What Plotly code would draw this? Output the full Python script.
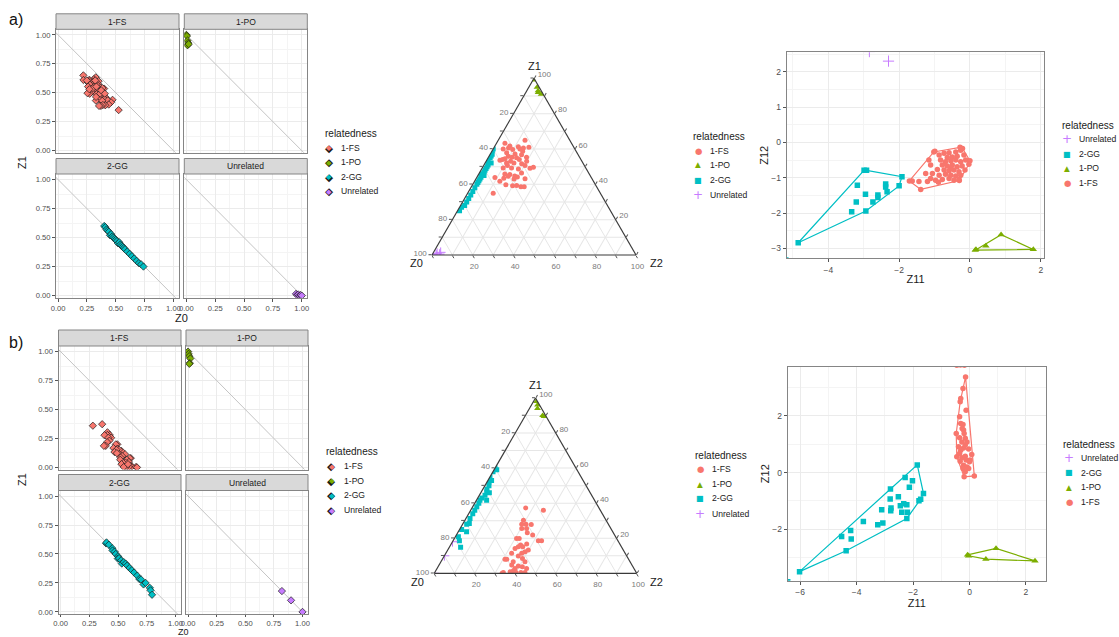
import plotly.graph_objects as go

W, H = 1119, 637

GROUPS = ["1-FS", "1-PO", "2-GG", "Unrelated"]
COLORS = {"1-FS": "#F8766D", "1-PO": "#7CAE00", "2-GG": "#00BFC4", "Unrelated": "#C77CFF"}

# ---------------- panel a: IBD proportions (Z0, Z1) ----------------
fs_a_z0 = [.219, .326, .310, .271, .220, .351, .306, .269, .262, .345, .307, .277, .347, .370, .310, .260, .399,
           .350, .338, .302, .377, .291, .274, .255, .333, .414, .391, .371, .404, .361, .472, .328, .431, .383,
           .459, .439, .409, .388, .371, .355, .525, .384, .322, .302, .271, .364, .249, .374, .332, .405, .329]
fs_a_z1 = [.650, .633, .617, .612, .610, .600, .597, .600, .587, .578, .572, .568, .559, .545, .551, .553, .536,
           .530, .521, .517, .506, .506, .491, .496, .487, .458, .455, .447, .445, .441, .439, .432, .434, .430,
           .417, .398, .392, .394, .386, .386, .350, .540, .606, .540, .530, .492, .606, .521, .553, .492, .464]
po_a_z0 = [0.0, 0.005, 0.01, 0.015, 0.01, 0.02]
po_a_z1 = [1.0, 0.99, 0.95, 0.93, 0.91, 0.92]
gg_a_z0 = [0.40, 0.41, 0.42, 0.43, 0.44, 0.45, 0.46, 0.47, 0.48, 0.49, 0.50, 0.51, 0.52, 0.53, 0.54, 0.55,
           0.56, 0.57, 0.58, 0.60, 0.62, 0.64, 0.66, 0.68, 0.70, 0.72, 0.74]
gg_a_z1 = [0.60, 0.59, 0.57, 0.56, 0.55, 0.52, 0.53, 0.51, 0.50, 0.49, 0.48, 0.47, 0.45, 0.46, 0.44, 0.43,
           0.42, 0.41, 0.40, 0.38, 0.36, 0.34, 0.32, 0.30, 0.28, 0.27, 0.25]
un_a_z0 = [0.95, 0.96, 0.97, 0.98, 0.99, 1.0]
un_a_z1 = [0.015, 0.005, 0.01, 0.0, 0.005, 0.0]

# ---------------- panel b: IBD proportions (Z0, Z1) ----------------
fs_b_z0 = [.362, .281, .408, .428, .407, .382, .440, .416, .425, .405, .494, .481, .393, .377, .493, .460, .530,
           .509, .487, .469, .511, .490, .561, .536, .522, .611, .602, .577, .519, .594, .564, .546, .530, .657,
           .621, .602, .594, .570, .550, .587, .665]
fs_b_z1 = [.373, .360, .303, .280, .280, .278, .256, .256, .231, .218, .199, .199, .186, .186, .161, .167, .142,
           .152, .152, .133, .114, .123, .114, .098, .085, .080, .080, .066, .066, .047, .042, .038, .028, .004,
           .009, .015, .004, .004, .004, .028, .0]
po_b_z0 = [0.0, 0.005, 0.01, 0.02, 0.015, 0.011]
po_b_z1 = [1.0, 0.98, 0.96, 0.94, 0.90, 0.894]
gg_b_z0 = [0.396, 0.40, 0.42, 0.45, 0.452, 0.47, 0.48, 0.50, 0.498, 0.509, 0.527, 0.533, 0.55, 0.566, 0.58,
           0.60, 0.62, 0.64, 0.667, 0.685, 0.70, 0.722, 0.74, 0.777, 0.783, 0.796]
gg_b_z1 = [0.591, 0.60, 0.58, 0.55, 0.530, 0.52, 0.50, 0.48, 0.460, 0.464, 0.445, 0.417, 0.43, 0.417, 0.40,
           0.38, 0.36, 0.34, 0.313, 0.284, 0.28, 0.237, 0.25, 0.208, 0.186, 0.148]
un_b_z0 = [0.82, 0.90, 1.0]
un_b_z1 = [0.18, 0.10, 0.0]

# ---------------- projections (Z11, Z12) ----------------
fs_a_x = [-1.02, -0.73, -0.59, -0.40, -0.26, -0.64, -0.50, -0.36, -0.17, -1.16, -0.83, -0.69, -0.54, -0.40,
          -0.26, -0.12, -1.11, -0.78, -0.64, -0.50, -0.36, -0.22, -0.92, -0.73, -0.59, -0.45, -0.31, -0.14,
          -1.25, -1.06, -0.87, -0.69, -0.54, -0.40, -0.26, -1.11, -0.78, -0.59, -0.45, -0.31, -1.44, -1.20,
          -0.97, -1.39, -1.63, -0.87, -0.54, -1.71, -0.99, -0.21, 0.0, -0.30, -0.89, -0.28, -0.03]
fs_a_y = [-0.27, -0.31, -0.29, -0.27, -0.22, -0.43, -0.41, -0.39, -0.36, -0.50, -0.50, -0.55, -0.52, -0.50,
          -0.55, -0.50, -0.64, -0.64, -0.67, -0.64, -0.69, -0.67, -0.77, -0.78, -0.80, -0.78, -0.83, -0.78,
          -0.88, -0.88, -0.93, -0.90, -0.93, -0.95, -0.93, -1.02, -1.05, -1.02, -1.07, -1.05, -1.11, -1.11,
          -1.07, -1.33, -1.09, -0.36, -0.74, -1.09, -0.25, -0.17, -0.52, -1.08, -1.13, -0.14, -0.62]
po_a_x = [0.17, 0.15, 0.45, 0.88, 1.79]
po_a_y = [-3.03, -3.05, -2.93, -2.61, -3.03]
gg_a_x = [-2.92, -2.99, -1.92, -2.00, -3.18, -2.38, -2.38, -2.95, -2.60, -2.60, -2.34, -3.21, -2.74, -3.34,
          -2.94, -4.85]
gg_a_y = [-0.79, -0.79, -0.97, -1.23, -1.21, -1.18, -1.26, -1.47, -1.49, -1.56, -1.40, -1.69, -1.69, -1.96,
          -1.94, -2.84]
gg_a_edge_x = [-5.2]
gg_a_edge_y = [-3.33]
un_a_x = [-2.84, -2.30]
un_a_y = [2.57, 2.30]

fs_b_x = [-0.14, -0.23, -0.31, -0.33, -0.12, -0.35, -0.31, -0.23, -0.21, -0.47, -0.19, -0.35, -0.15, -0.27,
          -0.09, -0.39, -0.21, -0.31, -0.03, -0.45, -0.27, -0.15, 0.08, -0.33, -0.12, 0.02, -0.21, -0.09,
          -0.23, -0.03, -0.19, 0.17, -0.15, -0.35, -0.26, -0.15, 0.0]
fs_b_y = [3.38, 2.97, 2.62, 2.50, 2.20, 1.97, 1.73, 1.70, 1.50, 1.38, 1.38, 1.23, 1.21, 1.08, 1.08, 0.91, 0.87,
          0.79, 0.83, 0.56, 0.52, 0.58, 0.64, 0.40, 0.44, 0.44, 0.26, 0.20, 0.14, 0.14, -0.15, -0.12, 0.03,
          0.67, 1.56, 0.97, 0.38]
fs_b_edge_x = [-0.45, -0.32, -0.18]
fs_b_edge_y = [3.79, 3.80, 3.79]
po_b_x = [-0.07, -0.03, 0.58, 0.94, 2.32]
po_b_y = [-2.91, -2.94, -3.06, -2.68, -3.12]
gg_b_x = [-6.02, -4.53, -4.21, -4.19, -4.37, -3.76, -3.25, -3.07, -3.11, -2.79, -2.78, -2.80, -2.81, -2.52,
          -2.45, -2.33, -2.28, -2.40, -2.22, -2.20, -2.22, -2.13, -2.02, -1.85, -1.79, -1.73, -1.63]
gg_b_y = [-3.50, -2.26, -2.05, -2.35, -2.76, -1.73, -1.84, -1.78, -1.31, -1.35, -1.25, -0.58, -0.93, -0.85,
          -1.17, -1.10, -0.17, -1.40, -1.14, -1.40, -1.62, -0.52, -0.29, 0.27, -1.00, -0.94, -0.74]
gg_b_edge_x = [-6.44]
gg_b_edge_y = [-3.86]
un_b_x = []
un_b_y = []

UNIT_TICKS = [0, 0.25, 0.5, 0.75, 1.0]
UNIT_LABELS = ["0.00", "0.25", "0.50", "0.75", "1.00"]
TERN_TICKS = [i / 10 for i in range(11)]
TERN_LABELS = ["100", "", "80", "", "60", "", "40", "", "20", "", ""]
SCATTER_ORDER = ["Unrelated", "2-GG", "1-PO", "1-FS"]

FONT = "Liberation Sans, Arial, sans-serif"
GLYPH_FONT = "DejaVu Sans"
GRID = "#ebebeb"
MINOR = "#f4f4f4"
BORDER = "#858585"
TICKTXT = "#4d4d4d"


def px(x):
    return x / W


def py(y):
    return 1 - y / H


def ax_ids(n):
    s = "" if n == 1 else str(n)
    return f"x{s}", f"y{s}", f"xaxis{s}", f"yaxis{s}"


def convex_hull(xs, ys):
    pts = sorted(set(zip(xs, ys)))
    if len(pts) < 3:
        return [], []

    def cross(o, a, b):
        return (a[0] - o[0]) * (b[1] - o[1]) - (a[1] - o[1]) * (b[0] - o[0])

    lower, upper = [], []
    for p in pts:
        while len(lower) >= 2 and cross(lower[-2], lower[-1], p) <= 0:
            lower.pop()
        lower.append(p)
    for p in reversed(pts):
        while len(upper) >= 2 and cross(upper[-2], upper[-1], p) <= 0:
            upper.pop()
        upper.append(p)
    ring = lower[:-1] + upper[:-1]
    ring.append(ring[0])
    return [p[0] for p in ring], [p[1] for p in ring]


fig = go.Figure()
layout = dict(
    width=W, height=H, margin=dict(l=0, r=0, t=0, b=0, pad=0), autosize=False,
    paper_bgcolor="white", plot_bgcolor="white", showlegend=False,
    font=dict(family=FONT, color="#1a1a1a"),
    shapes=[], annotations=[],
)


def note(text, x, y, size, color="#1a1a1a", xanchor="center", yanchor="middle", angle=0, family=FONT):
    layout["annotations"].append(dict(text=text, xref="paper", yref="paper", x=px(x), y=py(y),
                                      xanchor=xanchor, yanchor=yanchor, showarrow=False, textangle=angle,
                                      font=dict(size=size, color=color, family=family)))


# ---------------- faceted Z1 vs Z0 panels ----------------
FACETS = {
    "a": dict(cols=[(56, 179), (184.3, 307.3)], rows=[(29.3, 152.7), (174, 297.7)], strip=15.5,
              data={"1-FS": (fs_a_z0, fs_a_z1), "1-PO": (po_a_z0, po_a_z1),
                    "2-GG": (gg_a_z0, gg_a_z1), "Unrelated": (un_a_z0, un_a_z1)},
              first_axis=1),
    "b": dict(cols=[(58.5, 181), (186, 308)], rows=[(346, 469.5), (490.5, 614)], strip=16,
              data={"1-FS": (fs_b_z0, fs_b_z1), "1-PO": (po_b_z0, po_b_z1),
                    "2-GG": (gg_b_z0, gg_b_z1), "Unrelated": (un_b_z0, un_b_z1)},
              first_axis=5),
}
RANGE01 = [-0.018, 1.048]
ABLINE_INTERCEPT, ABLINE_SLOPE = 1.0, -1.0

for key, fc in FACETS.items():
    for k, grp in enumerate(GROUPS):
        r, c = divmod(k, 2)
        n = fc["first_axis"] + k
        xa, ya, xk, yk = ax_ids(n)
        x0p, x1p = fc["cols"][c]
        y0p, y1p = fc["rows"][r]
        bottom, left = (r == 1), (c == 0)
        common = dict(
            range=RANGE01, tickvals=UNIT_TICKS, ticktext=UNIT_LABELS, automargin=False,
            tickfont=dict(size=7.6, color=TICKTXT), ticklen=3, tickcolor="#555", tickwidth=1,
            showgrid=True, gridcolor=GRID, gridwidth=1,
            minor=dict(tickvals=[0.125, 0.375, 0.625, 0.875], showgrid=True, gridcolor=MINOR, gridwidth=1),
            showline=True, mirror=True, linecolor=BORDER, linewidth=1, zeroline=False, fixedrange=True,
        )
        layout[xk] = dict(common, domain=[px(x0p), px(x1p)], anchor=ya,
                          showticklabels=bottom, ticks="outside" if bottom else "",
                          ticklen=2 if key == "b" else 3)
        layout[yk] = dict(common, domain=[py(y1p), py(y0p)], anchor=xa,
                          showticklabels=left, ticks="outside" if left else "")
        # strip on top of each panel
        sh = fc["strip"] / (y1p - y0p)
        layout["shapes"].append(dict(type="rect", xref=f"{xa} domain", yref=f"{ya} domain",
                                     x0=0, x1=1, y0=1, y1=1 + sh, fillcolor="#d9d9d9",
                                     line=dict(color=BORDER, width=1), layer="above"))
        layout["annotations"].append(dict(text=grp, xref=f"{xa} domain", yref=f"{ya} domain",
                                          x=0.5, y=1 + sh / 2, xanchor="center", yanchor="middle",
                                          showarrow=False, font=dict(size=8.5, color="#1a1a1a")))
        # reference line Z1 = 1 - Z0
        lx = [RANGE01[0] - 0.1, RANGE01[1] + 0.1]
        fig.add_trace(go.Scatter(x=lx, y=[ABLINE_INTERCEPT + ABLINE_SLOPE * v for v in lx], mode="lines",
                                 line=dict(color="#c4c4c4", width=1), xaxis=xa, yaxis=ya,
                                 showlegend=False, hoverinfo="skip"))
        z0, z1 = fc["data"][grp]
        fig.add_trace(go.Scatter(x=z0, y=z1, mode="markers", name=grp,
                                 marker=dict(symbol="diamond", size=5.6, color=COLORS[grp],
                                             line=dict(color="#1a1a1a", width=0.7)),
                                 xaxis=xa, yaxis=ya))

# ---------------- ternary plots ----------------
TERN_SYMBOL = {"1-FS": "circle", "1-PO": "triangle-up", "2-GG": "square", "Unrelated": "cross-thin"}
TERN_SIZE = {"1-FS": 5, "1-PO": 6, "2-GG": 5, "Unrelated": 7}


def tern_axis():
    return dict(title=dict(text=""),
                tickvals=TERN_TICKS, ticktext=TERN_LABELS, ticks="outside", ticklen=3,
                tickcolor="#555", tickfont=dict(size=8, color="#7a7a7a"),
                showgrid=True, gridcolor="#e6e6e6", gridwidth=1,
                showline=True, linecolor="#3a3a3a", linewidth=1.2, min=0)


TERNS = {
    "ternary": dict(box=((432, 636), (78.3, 255)),
                    titles={"Z1": (534, 66), "Z0": (416, 262.5), "Z2": (656, 262.5)},
                    data={"1-FS": (fs_a_z0, fs_a_z1), "1-PO": (po_a_z0, po_a_z1),
                          "2-GG": (gg_a_z0, gg_a_z1), "Unrelated": (un_a_z0, un_a_z1)}),
    "ternary2": dict(box=((434.3, 636.7), (398, 573.3)),
                     titles={"Z1": (535.7, 384.5), "Z0": (417.5, 581.5), "Z2": (657, 581.5)},
                     data={"1-FS": (fs_b_z0, fs_b_z1), "1-PO": (po_b_z0, po_b_z1),
                           "2-GG": (gg_b_z0, gg_b_z1), "Unrelated": (un_b_z0, un_b_z1)}),
}
for tid, tc in TERNS.items():
    (x0p, x1p), (y0p, y1p) = tc["box"]
    layout[tid] = dict(domain=dict(x=[px(x0p), px(x1p)], y=[py(y1p), py(y0p)]), sum=1, bgcolor="white",
                       aaxis=tern_axis(), baxis=tern_axis(), caxis=tern_axis())
    for grp in GROUPS:
        z0, z1 = tc["data"][grp]
        z2 = [max(0.0, 1 - u - v) for u, v in zip(z0, z1)]
        mk = dict(symbol=TERN_SYMBOL[grp], size=TERN_SIZE[grp], color=COLORS[grp])
        if grp == "Unrelated":
            mk["line"] = dict(color=COLORS[grp], width=1)
        fig.add_trace(go.Scatterternary(a=z1, b=z0, c=z2, mode="markers", name=grp, subplot=tid, marker=mk))
    for label, (tx, ty) in tc["titles"].items():
        note(label, tx, ty, 11)

# ---------------- Z12 vs Z11 scatter with convex hulls ----------------
SCAT = {
    9: dict(x=(786.7, 1044.3), y=(52.3, 258.3), xr=[-5.175, 2.1], yr=[-3.28, 2.55],
            xt=[-4, -2, 0, 2], xm=[-5, -3, -1, 1], yt=[-3, -2, -1, 0, 1, 2], ym=[-2.5, -1.5, -0.5, 0.5, 1.5, 2.5],
            data={"Unrelated": (un_a_x, un_a_y), "2-GG": (gg_a_x, gg_a_y), "1-PO": (po_a_x, po_a_y),
                  "1-FS": (fs_a_x, fs_a_y)},
            edge={"2-GG": (gg_a_edge_x, gg_a_edge_y)}),
    10: dict(x=(787.7, 1046), y=(366.7, 580.7), xr=[-6.44, 2.71], yr=[-3.82, 3.74],
             xt=[-6, -4, -2, 0, 2], xm=[-5, -3, -1, 1], yt=[-2, 0, 2], ym=[-3, -1, 1, 3],
             data={"Unrelated": (un_b_x, un_b_y), "2-GG": (gg_b_x, gg_b_y), "1-PO": (po_b_x, po_b_y),
                   "1-FS": (fs_b_x, fs_b_y)},
             edge={"2-GG": (gg_b_edge_x, gg_b_edge_y), "1-FS": (fs_b_edge_x, fs_b_edge_y)}),
}
SCAT_SYMBOL = {"1-FS": "circle", "1-PO": "triangle-up", "2-GG": "square", "Unrelated": "cross-thin"}
SCAT_SIZE = {"1-FS": 5.5, "1-PO": 6.5, "2-GG": 5.5, "Unrelated": 8}

for n, sc in SCAT.items():
    xa, ya, xk, yk = ax_ids(n)
    common = dict(tickfont=dict(size=8.5, color=TICKTXT), ticks="outside", ticklen=3, tickcolor="#555",
                  showgrid=True, gridcolor=GRID, gridwidth=1, showline=True, mirror=True, automargin=False,
                  linecolor=BORDER, linewidth=1, zeroline=False, fixedrange=True)
    layout[xk] = dict(common, domain=[px(sc["x"][0]), px(sc["x"][1])], anchor=ya, range=sc["xr"],
                      tickvals=sc["xt"], minor=dict(tickvals=sc["xm"], showgrid=True, gridcolor=MINOR),
                      title=dict(text="Z11", font=dict(size=11, color="#1a1a1a"), standoff=1))
    layout[yk] = dict(common, domain=[py(sc["y"][1]), py(sc["y"][0])], anchor=xa, range=sc["yr"],
                      tickvals=sc["yt"], minor=dict(tickvals=sc["ym"], showgrid=True, gridcolor=MINOR),
                      title=dict(text="Z12", font=dict(size=11, color="#1a1a1a"), standoff=0))
    for grp in SCATTER_ORDER:
        gx, gy = sc["data"][grp]
        mk = dict(symbol=SCAT_SYMBOL[grp], size=SCAT_SIZE[grp], color=COLORS[grp])
        if grp == "Unrelated":
            mk["line"] = dict(color=COLORS[grp], width=1)
        if not gx:
            continue
        hx, hy = convex_hull(gx, gy)
        if hx:
            fig.add_trace(go.Scatter(x=hx, y=hy, mode="lines", line=dict(color=COLORS[grp], width=1.2),
                                     xaxis=xa, yaxis=ya, hoverinfo="skip"))
        fig.add_trace(go.Scatter(x=gx, y=gy, mode="markers", name=grp, marker=mk, xaxis=xa, yaxis=ya))
        if grp in sc["edge"]:
            ex, ey = sc["edge"][grp]
            fig.add_trace(go.Scatter(x=ex, y=ey, mode="markers", name=grp, marker=mk, xaxis=xa, yaxis=ya))

# ---------------- legends (title, key glyph, label) ----------------
KEY_GLYPH = {
    "circle": ("\u25cf", 8.5), "triangle-up": ("\u25b2", 7.5), "square": ("\u25a0", 8), "cross-thin": ("+", 12),
}
LEGENDS = [
    dict(title=(322.5, 133.3), key_x=329.3, rows=[147.7, 162.3, 176.7, 191.0], order=GROUPS, kind="facet"),
    dict(title=(691, 136), key_x=698.3, rows=[150.7, 164.8, 180, 195], order=GROUPS, kind="tern"),
    dict(title=(1060, 125), key_x=1067.3, rows=[139.3, 154, 168.3, 183.3], order=SCATTER_ORDER, kind="scat"),
    dict(title=(324, 451.7), key_x=331.7, rows=[466, 480.7, 495.3, 510], order=GROUPS, kind="facet"),
    dict(title=(693.3, 455), key_x=700, rows=[469.3, 484, 498.3, 514], order=GROUPS, kind="tern"),
    dict(title=(1061, 444), key_x=1069, rows=[458, 472.7, 487.3, 502.3], order=SCATTER_ORDER, kind="scat"),
]
for lg in LEGENDS:
    tx, ty = lg["title"]
    note("relatedness", tx, ty, 10, xanchor="left")
    for grp, ry in zip(lg["order"], lg["rows"]):
        kx = lg["key_x"]
        if lg["kind"] == "facet":
            note("\u25c6", kx, ry, 10.5, color="#1a1a1a", family=GLYPH_FONT)
            note("\u25c6", kx, ry, 7.2, color=COLORS[grp], family=GLYPH_FONT)
        else:
            sym = (TERN_SYMBOL if lg["kind"] == "tern" else SCAT_SYMBOL)[grp]
            glyph, gsize = KEY_GLYPH[sym]
            note(glyph, kx, ry, gsize, color=COLORS[grp], family=GLYPH_FONT)
        note(grp, kx + 10, ry, 8.6, xanchor="left")

# ---------------- panel labels and facet axis titles ----------------
note("a)", 16, 20, 16, color="#111")
note("b)", 16, 342, 16, color="#111")
note("Z1", 22, 163, 11, angle=-90)
note("Z0", 181, 318, 11)
note("Z1", 22, 480, 11, angle=-90)
note("Z0", 183, 631.5, 9)

fig.update_layout(**layout)
fig.write_html("out.html")
